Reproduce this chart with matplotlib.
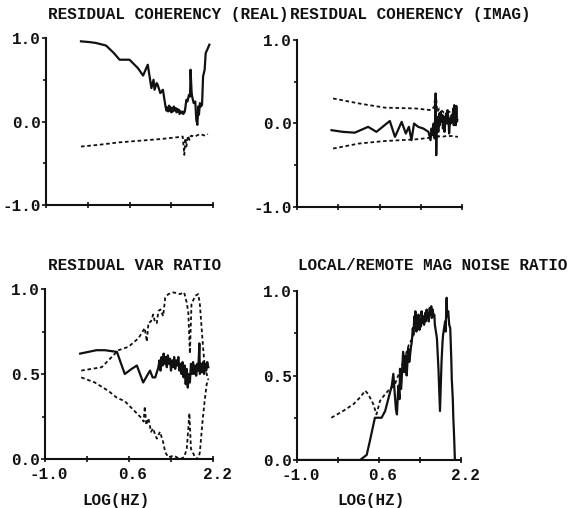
import matplotlib
matplotlib.use("Agg")
import matplotlib.pyplot as plt
from matplotlib.transforms import ScaledTranslation

plt.rcParams['font.family'] = ['Liberation Mono', 'DejaVu Sans Mono']
plt.rcParams['font.weight'] = 'bold'

# ---- residual coherency, real part ----
coh_real_x = [-0.33, -0.15, -0.04, 0.15, 0.30, 0.41, 0.60, 0.76, 0.86, 0.95, 0.99, 1.02, 1.06,
              1.08, 1.12, 1.14, 1.19, 1.24, 1.29, 1.31, 1.32, 1.34, 1.36, 1.37, 1.39, 1.40,
              1.42, 1.43, 1.45, 1.47, 1.49, 1.50, 1.52, 1.53, 1.55, 1.56, 1.58, 1.60, 1.62,
              1.63, 1.65, 1.66, 1.69, 1.71, 1.74, 1.76, 1.77, 1.79, 1.80, 1.83, 1.86, 1.88,
              1.90, 1.92, 1.93, 1.95, 1.97, 1.99, 2.01, 2.04, 2.06, 2.09, 2.13]
coh_real_y = [0.96, 0.95, 0.94, 0.91, 0.82, 0.74, 0.74, 0.64, 0.55, 0.68, 0.52, 0.40, 0.50,
              0.38, 0.46, 0.44, 0.34, 0.38, 0.18, 0.13, 0.17, 0.12, 0.19, 0.13, 0.17, 0.11,
              0.16, 0.12, 0.18, 0.13, 0.16, 0.11, 0.15, 0.12, 0.14, 0.09, 0.12, 0.10, 0.12,
              0.09, 0.11, 0.12, 0.26, 0.24, 0.32, 0.30, 0.62, 0.35, 0.30, 0.22, 0.24, 0.02,
              -0.04, 0.18, 0.08, 0.22, 0.18, 0.20, 0.54, 0.62, 0.82, 0.86, 0.92]
coh_real_ref_x = [-0.33, 0.0, 0.4, 0.8, 1.2, 1.5, 1.62, 1.65, 1.67, 1.69, 1.72, 1.75, 1.78,
                  1.85, 1.95, 2.05, 2.10]
coh_real_ref_y = [-0.30, -0.28, -0.25, -0.23, -0.21, -0.19, -0.18, -0.40, -0.20, -0.30, -0.17,
                  -0.22, -0.17, -0.18, -0.15, -0.17, -0.15]

# ---- residual coherency, imaginary part ----
coh_imag_x = [-0.33, -0.11, 0.12, 0.38, 0.54, 0.80, 0.90, 1.03, 1.11, 1.17, 1.22, 1.27, 1.35,
              1.45, 1.55, 1.59, 1.61, 1.63, 1.65, 1.67, 1.68, 1.69, 1.70, 1.71, 1.73, 1.74,
              1.76, 1.77, 1.79, 1.80, 1.82, 1.83, 1.85, 1.86, 1.88, 1.89, 1.91, 1.92, 1.94,
              1.95, 1.97, 1.98, 2.00, 2.01, 2.03, 2.04, 2.05, 2.06, 2.07, 2.08, 2.09, 2.10,
              2.11]
coh_imag_y = [-0.08, -0.10, -0.11, -0.04, -0.10, 0.03, -0.16, 0.02, -0.12, -0.04, -0.20, 0.00,
              -0.04, -0.06, -0.10, -0.20, -0.06, -0.14, 0.00, -0.18, 0.10, 0.36, -0.38, -0.05,
              0.08, -0.10, 0.12, -0.02, 0.14, 0.02, 0.10, -0.06, 0.08, -0.10, 0.04, 0.12,
              0.00, 0.16, 0.04, -0.12, 0.06, 0.00, 0.10, 0.02, 0.18, -0.02, 0.22, 0.00, 0.20,
              -0.02, 0.21, 0.02, 0.04]
coh_imag_hi_x = [-0.30, 0.2, 0.7, 1.3, 1.6, 1.66, 1.69, 1.72, 1.76, 1.85, 1.95, 2.05, 2.12]
coh_imag_hi_y = [0.30, 0.24, 0.19, 0.18, 0.16, 0.20, 0.38, 0.14, 0.18, 0.13, 0.14, 0.13, 0.12]
coh_imag_lo_x = [-0.30, 0.2, 0.7, 1.3, 1.6, 1.66, 1.70, 1.74, 1.80, 1.90, 2.0, 2.12]
coh_imag_lo_y = [-0.30, -0.24, -0.21, -0.19, -0.17, -0.12, -0.20, -0.15, -0.16, -0.15, -0.15,
                 -0.16]

# ---- residual variance ratio ----
var_x = [-0.33, -0.02, 0.14, 0.37, 0.45, 0.52, 0.65, 0.75, 0.87, 1.00, 1.05, 1.10, 1.16, 1.18,
         1.20, 1.22, 1.24, 1.26, 1.28, 1.30, 1.32, 1.34, 1.36, 1.38, 1.40, 1.42, 1.44, 1.46,
         1.48, 1.50, 1.52, 1.54, 1.56, 1.58, 1.60, 1.62, 1.64, 1.66, 1.68, 1.70, 1.72, 1.74,
         1.76, 1.78, 1.80, 1.82, 1.84, 1.86, 1.88, 1.90, 1.92, 1.94, 1.95, 1.97, 1.99, 2.01,
         2.03, 2.05, 2.07, 2.09, 2.11]
var_y = [0.62, 0.64, 0.64, 0.63, 0.56, 0.50, 0.53, 0.55, 0.45, 0.52, 0.48, 0.48, 0.54, 0.58,
         0.52, 0.60, 0.55, 0.62, 0.56, 0.60, 0.54, 0.61, 0.56, 0.59, 0.52, 0.58, 0.54, 0.60,
         0.53, 0.58, 0.55, 0.60, 0.52, 0.56, 0.50, 0.57, 0.48, 0.55, 0.44, 0.53, 0.42, 0.50,
         0.45, 0.56, 0.50, 0.57, 0.50, 0.55, 0.49, 0.56, 0.52, 0.68, 0.50, 0.56, 0.51, 0.57,
         0.50, 0.56, 0.52, 0.57, 0.54]
var_hi_x = [-0.31, 0.08, 0.27, 0.40, 0.59, 0.78, 0.90, 0.94, 0.97, 1.02, 1.06, 1.10, 1.13, 1.16,
            1.20, 1.25, 1.29, 1.35, 1.45, 1.57, 1.65, 1.70, 1.73, 1.76, 1.79, 1.86, 1.92, 1.95,
            2.00, 2.04, 2.08, 2.11]
var_hi_y = [0.52, 0.54, 0.60, 0.64, 0.66, 0.71, 0.77, 0.69, 0.80, 0.81, 0.85, 0.80, 0.80, 0.87,
            0.88, 0.84, 0.95, 0.97, 0.98, 0.97, 0.98, 0.92, 0.86, 0.62, 0.91, 0.96, 0.97, 0.91,
            0.70, 0.55, 0.50, 0.47]
var_lo_x = [-0.31, -0.05, 0.21, 0.37, 0.52, 0.68, 0.84, 0.88, 0.90, 0.93, 0.97, 1.02, 1.06,
            1.10, 1.13, 1.19, 1.25, 1.29, 1.35, 1.45, 1.57, 1.65, 1.70, 1.73, 1.75, 1.78, 1.86,
            1.92, 1.95, 2.00, 2.04, 2.08, 2.11]
var_lo_y = [0.48, 0.45, 0.40, 0.36, 0.34, 0.29, 0.24, 0.22, 0.31, 0.20, 0.24, 0.16, 0.18, 0.14,
            0.12, 0.16, 0.10, 0.04, 0.01, 0.02, 0.00, 0.01, 0.06, 0.18, 0.27, 0.06, 0.01, 0.00,
            0.04, 0.22, 0.34, 0.44, 0.47]

# ---- local/remote magnetic noise ratio ----
noise_x = [-1.0, 0.13, 0.23, 0.36, 0.42, 0.52, 0.55, 0.65, 0.72, 0.78, 0.85, 0.88, 0.91, 0.93,
           0.95, 0.97, 0.98, 1.00, 1.01, 1.03, 1.04, 1.06, 1.07, 1.09, 1.10, 1.12, 1.14, 1.16,
           1.17, 1.19, 1.20, 1.22, 1.24, 1.26, 1.27, 1.29, 1.30, 1.31, 1.33, 1.34, 1.36, 1.37,
           1.39, 1.40, 1.42, 1.43, 1.45, 1.46, 1.48, 1.50, 1.51, 1.53, 1.54, 1.56, 1.57, 1.59,
           1.60, 1.62, 1.63, 1.65, 1.66, 1.68, 1.69, 1.73, 1.76, 1.79, 1.82, 1.84, 1.85, 1.87,
           1.89, 1.90, 1.92, 1.93, 1.95, 1.97, 1.99, 2.01, 2.02, 2.04, 2.05, 2.06, 2.07, 2.08]
noise_y = [0.0, 0.0, 0.0, 0.03, 0.11, 0.25, 0.25, 0.25, 0.29, 0.36, 0.44, 0.51, 0.38, 0.30,
           0.27, 0.40, 0.44, 0.36, 0.54, 0.42, 0.46, 0.58, 0.64, 0.52, 0.55, 0.62, 0.50, 0.60,
           0.66, 0.58, 0.60, 0.66, 0.70, 0.78, 0.74, 0.85, 0.79, 0.88, 0.76, 0.84, 0.80, 0.86,
           0.77, 0.83, 0.79, 0.88, 0.81, 0.85, 0.80, 0.87, 0.82, 0.89, 0.84, 0.87, 0.82, 0.90,
           0.86, 0.91, 0.84, 0.89, 0.85, 0.86, 0.80, 0.72, 0.54, 0.29, 0.58, 0.70, 0.74, 0.78,
           0.82, 0.76, 0.96, 0.85, 0.88, 0.80, 0.78, 0.60, 0.48, 0.36, 0.25, 0.18, 0.10, 0.01]
noise_ref_x = [-0.33, -0.10, 0.10, 0.23, 0.33, 0.39, 0.49, 0.55, 0.62, 0.72, 0.81, 0.90, 1.0,
               1.10, 1.18, 1.25, 1.30]
noise_ref_y = [0.25, 0.29, 0.33, 0.37, 0.41, 0.39, 0.33, 0.27, 0.35, 0.39, 0.42, 0.44, 0.52,
               0.60, 0.68, 0.72, 0.78]

x_ticks = [-1.0, -0.2, 0.6, 1.4, 2.2]
x_ticklabels = ['-1.0', '', '0.6', '', '2.2']

titles = ['RESIDUAL COHERENCY (REAL)', 'RESIDUAL COHERENCY (IMAG)',
          'RESIDUAL VAR RATIO', 'LOCAL/REMOTE MAG NOISE RATIO']

W, H = 575, 508
fig = plt.figure(figsize=(W / 100, H / 100), dpi=100)
FS = 11.5
INK = '#111111'
DASH = (0, (2.0, 1.5))
LW_SOLID = 1.6
LW_DASH = 1.3


def px_axes(l, r, b, t):
    return fig.add_axes([l / W, 1 - b / H, (r - l) / W, (b - t) / H])


def style(ax, ylim, yticks, yminor, show_xlabels):
    ax.set_xlim(-1.0, 2.2)
    ax.set_ylim(*ylim)
    for s in ('top', 'right'):
        ax.spines[s].set_visible(False)
    for s in ('left', 'bottom'):
        ax.spines[s].set_linewidth(1.5)
        ax.spines[s].set_color(INK)
    ax.set_xticks(x_ticks)
    if show_xlabels:
        ax.set_xticklabels(x_ticklabels)
    else:
        ax.set_xticklabels([''] * len(x_ticks))
    ax.set_yticks(yticks)
    ax.set_yticklabels(['%.1f' % v for v in yticks])
    ax.set_yticks(yminor, minor=True)
    ax.tick_params(axis='x', direction='inout', length=4, width=1.2, pad=4,
                   labelsize=FS, colors=INK)
    ax.tick_params(axis='y', which='major', direction='out', length=3, width=1.2, pad=0.5,
                   labelsize=FS, colors=INK)
    ax.tick_params(axis='y', which='minor', direction='out', length=2, width=1.2, colors=INK)
    off = ScaledTranslation(4 / 100, 0, fig.dpi_scale_trans)
    for lab in ax.get_xticklabels():
        lab.set_transform(lab.get_transform() + off)
    ax.patch.set_alpha(0)


# top-left
ax1 = px_axes(46, 213, 205, 38)
ax1.plot(coh_real_x, coh_real_y, color=INK, lw=LW_SOLID)
ax1.plot(coh_real_ref_x, coh_real_ref_y, color=INK, lw=LW_DASH, ls=DASH)
style(ax1, (-1.0, 1.0), [-1.0, 0.0, 1.0], [-0.5, 0.5], False)

# top-right
ax2 = px_axes(297, 462, 207, 40)
ax2.plot(coh_imag_x, coh_imag_y, color=INK, lw=LW_SOLID)
ax2.plot(coh_imag_hi_x, coh_imag_hi_y, color=INK, lw=LW_DASH, ls=DASH)
ax2.plot(coh_imag_lo_x, coh_imag_lo_y, color=INK, lw=LW_DASH, ls=DASH)
style(ax2, (-1.0, 1.0), [-1.0, 0.0, 1.0], [-0.5, 0.5], False)

# bottom-left
ax3 = px_axes(45, 213, 459, 289)
ax3.plot(var_x, var_y, color=INK, lw=LW_SOLID)
ax3.plot(var_hi_x, var_hi_y, color=INK, lw=LW_DASH, ls=DASH)
ax3.plot(var_lo_x, var_lo_y, color=INK, lw=LW_DASH, ls=DASH)
style(ax3, (0.0, 1.0), [0.0, 0.5, 1.0], [0.25, 0.75], True)

# bottom-right
ax4 = px_axes(297, 461, 460, 291)
ax4.plot(noise_ref_x, noise_ref_y, color=INK, lw=LW_DASH, ls=DASH)
ax4.plot(noise_x, noise_y, color=INK, lw=LW_SOLID)
style(ax4, (0.0, 1.0), [0.0, 0.5, 1.0], [0.25, 0.75], True)

# panel titles
for (x, y), t in zip([(48, 14), (290, 14), (48, 265), (298, 265)], titles):
    fig.text(x / W, 1 - y / H, t, ha='left', va='center', fontsize=FS,
             fontweight='bold', color=INK)

# axis labels under the bottom panels
for cx in (116, 371):
    fig.text(cx / W, 1 - 500 / H, 'LOG(HZ)', ha='center', va='center', fontsize=FS,
             fontweight='bold', color=INK)

fig.savefig('out.png', dpi=100)
